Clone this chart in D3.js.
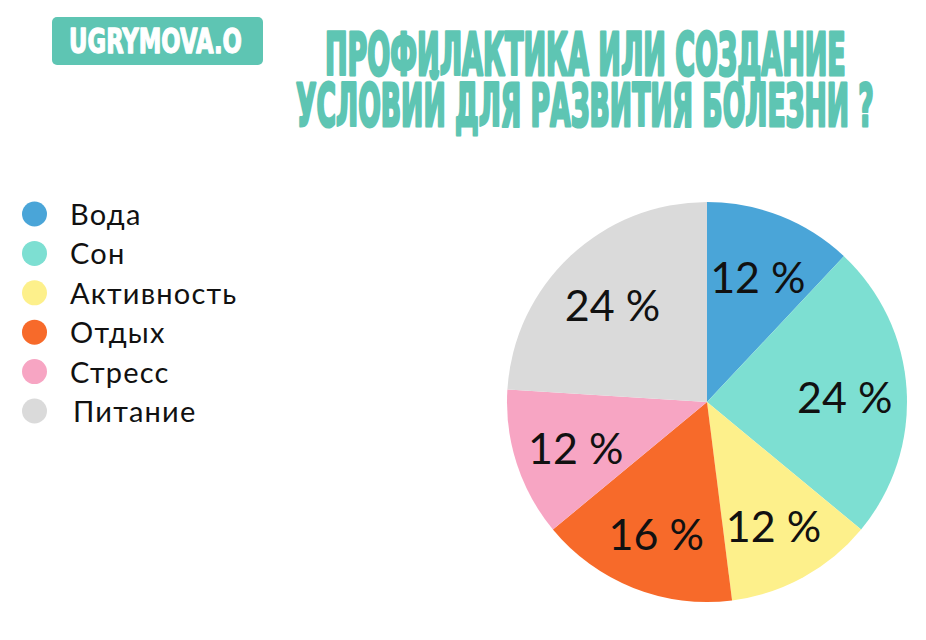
<!DOCTYPE html>
<html>
<head>
<meta charset="utf-8">
<script src="https://cdn.jsdelivr.net/npm/d3@7"></script>
<style>
  html, body { margin: 0; padding: 0; background: #ffffff; }
  svg { display: block; }
</style>
</head>
<body>
<svg id="chart" width="926" height="640"></svg>
<script>
const categories = ["Вода", "Сон", "Активность", "Отдых", "Стресс", "Питание"];
const values = [12, 24, 12, 16, 12, 24];
const labels = ["12 %", "24 %", "12 %", "16 %", "12 %", "24 %"];
const colors = ["#4aa5d8", "#7ddfd2", "#fdf08b", "#f76a2a", "#f7a5c3", "#dadada"];
const titleLines = ["ПРОФИЛАКТИКА ИЛИ СОЗДАНИЕ", "УСЛОВИЙ ДЛЯ РАЗВИТИЯ БОЛЕЗНИ ?"];
const badgeText = "UGRYMOVA.O";

const svg = d3.select("#chart");
const teal = "#5ec5b3";
const condensed = "'Liberation Sans Narrow', 'DejaVu Sans Condensed', 'Roboto Condensed', sans-serif";

// Helper: place text so that its rendered width equals w, using a horizontal scale transform
function fitText(sel, x, y, w) {
  const natural = sel.node().getComputedTextLength();
  const sx = w / natural;
  sel.attr("x", 0).attr("y", 0)
     .attr("transform", `translate(${x},${y}) scale(${sx},1)`);
}

// Badge
svg.append("rect")
  .attr("x", 52).attr("y", 17).attr("width", 211).attr("height", 48)
  .attr("rx", 5).attr("fill", teal);
const badge = svg.append("text")
  .style("font-family", condensed)
  .style("font-weight", "bold").style("font-size", "34px")
  .attr("fill", "#ffffff")
  .attr("stroke", "#ffffff").attr("stroke-width", 1.3).attr("stroke-linejoin", "round")
  .text(badgeText);
fitText(badge, 69, 53, 173);

// Title
const titleSpec = [
  {x: 325, y: 75, w: 521},
  {x: 296, y: 126, w: 578}
];
titleLines.forEach((t, i) => {
  const tx = svg.append("text")
    .style("font-family", condensed)
    .style("font-weight", "bold").style("font-size", "58px")
    .attr("fill", teal)
    .attr("stroke", teal).attr("stroke-width", 3).attr("stroke-linejoin", "round")
    .text(t);
  fitText(tx, titleSpec[i].x, titleSpec[i].y, titleSpec[i].w);
});

// Legend
const legend = svg.append("g");
const ly = d3.scaleLinear().domain([0, categories.length - 1]).range([214, 411]);
categories.forEach((c, i) => {
  legend.append("circle")
    .attr("cx", 34.5).attr("cy", ly(i)).attr("r", 12.5)
    .attr("fill", colors[i]);
  legend.append("text")
    .attr("x", c === "Питание" ? 73 : 70).attr("y", ly(i) + 11)
    .style("font-family", "Lato, 'Noto Sans', sans-serif")
    .style("font-size", "29px")
    .style("letter-spacing", "1.2px")
    .attr("fill", "#111111")
    .text(c);
});

// Pie
const cx = 707, cy = 402, r = 200;
const pie = d3.pie().sort(null).value(d => d)(values);
const arc = d3.arc().innerRadius(0).outerRadius(r);
const labelArc = d3.arc().innerRadius(276).outerRadius(0);
const g = svg.append("g").attr("transform", `translate(${cx},${cy})`);
g.selectAll("path").data(pie).join("path")
  .attr("d", arc)
  .attr("fill", (d, i) => colors[i]);
g.selectAll("text").data(pie).join("text")
  .attr("transform", d => `translate(${labelArc.centroid(d)})`)
  .attr("text-anchor", "middle")
  .attr("dy", "0.45em")
  .style("font-family", "Lato, 'Noto Sans', sans-serif")
  .style("font-size", "43px")
  .attr("fill", "#111111")
  .text((d, i) => labels[i]);
</script>
</body>
</html>
